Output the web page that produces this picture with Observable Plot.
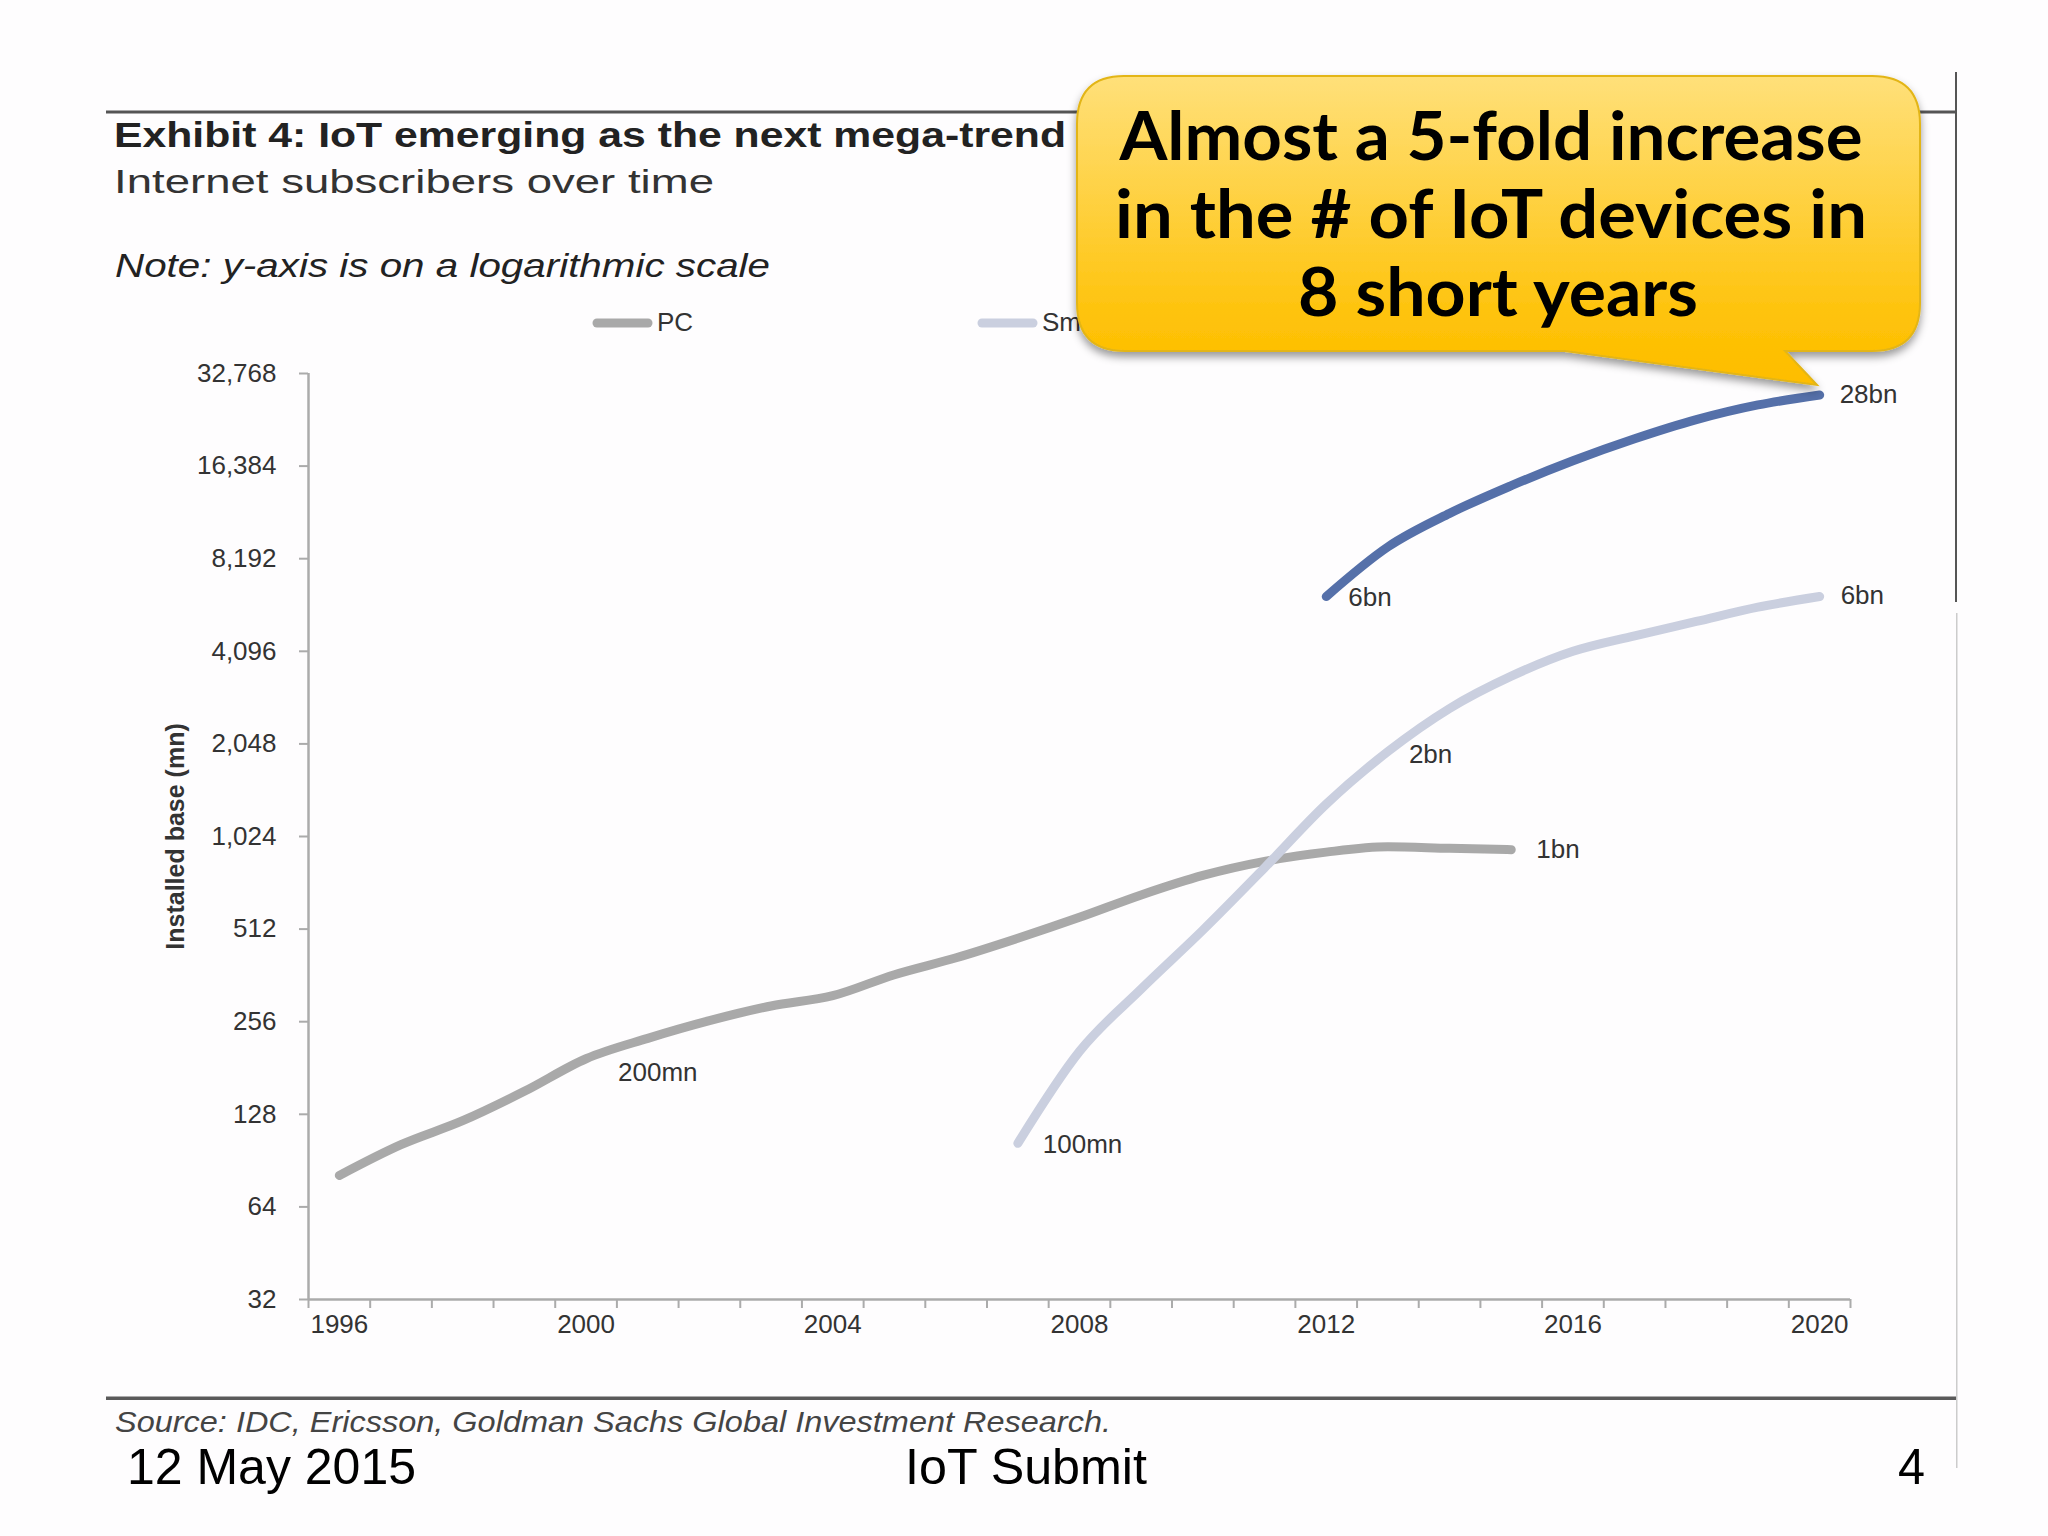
<!DOCTYPE html>
<html><head><meta charset="utf-8">
<script src="https://cdn.jsdelivr.net/npm/d3@7"></script>
<script src="https://cdn.jsdelivr.net/npm/@observablehq/plot@0.6"></script>
<style>
html,body{margin:0;padding:0;background:#fefdfe;width:2048px;height:1536px;overflow:hidden}
#wrap{position:relative;width:2048px;height:1536px}
#wrap svg{position:absolute;left:0;top:0}
text{font-family:"Liberation Sans",Arial,sans-serif}
</style></head><body><div id="wrap"></div>
<script>
const pcYears=[1996,1997,1998,1999,2000,2001,2002,2003,2004,2005,2006,2007,2008,2009,2010,2011,2012,2013,2014,2015];
const pcValues=[81,102,122,152,194,226,258,288,311,364,413,478,559,661,765,850,911,948,937,928];
const phoneYears=[2007,2008,2009,2010,2011,2012,2013,2014,2015,2016,2017,2018,2019,2020];
const phoneValues=[103,205,327,508,810,1305,1934,2670,3400,4096,4600,5120,5700,6170];
const iotYears=[2012,2013,2014,2015,2016,2017,2018,2019,2020];
const iotValues=[6170,8950,11500,14150,17050,20100,23200,25900,27900];
const yTicks=[32,64,128,256,512,1024,2048,4096,8192,16384,32768];
const xLabels=[1996,2000,2004,2008,2012,2016,2020];
const xEdges=d3.range(1995.5,2021,1);
const pc=pcYears.map((x,i)=>({x,y:pcValues[i]}));
const phone=phoneYears.map((x,i)=>({x,y:phoneValues[i]}));
const iot=iotYears.map((x,i)=>({x,y:iotValues[i]}));
const grey="#a9a9a9",pale="#cacfdf",blue="#5570a9",axis="#ababab",ink="#333";
const seriesLine=(d,c)=>Plot.line(d,{x:"x",y:"y",stroke:c,strokeWidth:9,curve:"monotone-x",strokeLinecap:"round",strokeLinejoin:"round"});
const note=(x,y,t,dx,dy)=>Plot.text([{x,y,t}],{x:"x",y:"y",text:"t",dx,dy,textAnchor:"start",fontSize:26,fill:ink});
const chart=Plot.plot({
  width:2048,height:1536,marginLeft:308,marginRight:198,marginTop:373,marginBottom:237,
  style:{background:"transparent",fontFamily:"Liberation Sans"},
  x:{domain:[1995.5,2020.5]},
  y:{type:"log",base:2,domain:[32,32768]},
  marks:[
    Plot.ruleY([32],{stroke:axis,strokeWidth:2.5}),
    Plot.ruleX([1995.5],{stroke:axis,strokeWidth:2.5}),
    Plot.axisX({ticks:xEdges,tickFormat:()=>"",tickSize:9,stroke:axis,strokeWidth:2,label:null}),
    Plot.axisX({ticks:xLabels,tickSize:0,tickPadding:15,tickFormat:d=>String(d),fontSize:26,fill:ink,label:null}),
    Plot.axisY({ticks:yTicks,tickSize:9,tickPadding:23,tickFormat:d3.format(","),stroke:axis,strokeWidth:2,fontSize:26,fill:ink,
      label:"Installed base (mn)",labelAnchor:"center",labelArrow:"none",labelOffset:142}),
    seriesLine(pc,grey),seriesLine(phone,pale),seriesLine(iot,blue),
    note(2000,pcValues[4],"200mn",32,14),
    note(2007,phoneValues[0],"100mn",25,1),
    note(2015,pcValues[19],"1bn",25,0),
    note(2013,phoneValues[6],"2bn",21,3),
    note(2012,iotValues[0],"6bn",22,1),
    note(2020,iotValues[8],"28bn",20,0),
    note(2020,phoneValues[13],"6bn",21,-1)
  ]
});
document.getElementById("wrap").appendChild(chart);
const yl=[...chart.querySelectorAll("text")].find(t=>t.textContent.includes("Installed"));
if(yl){yl.style.fontWeight="bold";yl.style.fontSize="25px";yl.style.fill="#333";}
const ns="http://www.w3.org/2000/svg";
const overlay=`<svg xmlns="${ns}" width="2048" height="1536" viewBox="0 0 2048 1536">
<defs><linearGradient id="g" x1="0" y1="0" x2="0" y2="1"><stop offset="0" stop-color="#ffe07a"/><stop offset=".8" stop-color="#fec208"/><stop offset="1" stop-color="#febd00"/></linearGradient>
<filter id="s" x="-5%" y="-5%" width="110%" height="115%"><feDropShadow dx="0" dy="5" stdDeviation="4" flood-color="#000" flood-opacity=".4"/></filter></defs>
<rect x="106" y="110.5" width="1850" height="3" fill="#555"/>
<rect x="106" y="1396.5" width="1850" height="3.5" fill="#5a5a5a"/>
<rect x="1955" y="72" width="2" height="530" fill="#555"/>
<rect x="1956" y="613" width="1.5" height="855" fill="#ccc"/>
<text x="114" y="147" font-size="35" font-weight="bold" fill="#222" textLength="952" lengthAdjust="spacingAndGlyphs">Exhibit 4: IoT emerging as the next mega-trend</text>
<text x="114" y="193" font-size="33" fill="#333" textLength="600" lengthAdjust="spacingAndGlyphs">Internet subscribers over time</text>
<text x="115" y="277" font-size="33" font-style="italic" fill="#222" textLength="655" lengthAdjust="spacingAndGlyphs">Note: y-axis is on a logarithmic scale</text>
<line x1="597" x2="648" y1="323" y2="323" stroke="${grey}" stroke-width="9" stroke-linecap="round"/>
<text x="657" y="331" font-size="26" fill="${ink}">PC</text>
<line x1="982" x2="1033" y1="323" y2="323" stroke="${pale}" stroke-width="9" stroke-linecap="round"/>
<text x="1042" y="331" font-size="26" fill="${ink}">Sm</text>
<path filter="url(#s)" d="M1124 76H1872Q1920 76 1920 124V303Q1920 351 1872 351H1785L1817 385L1565 351H1125Q1077 351 1077 303V124Q1077 76 1124 76Z" fill="url(#g)" stroke="#e3b517" stroke-width="2"/>
<g style="font-family:Lato" font-weight="bold" font-size="66" fill="#000" text-anchor="middle">
<text x="1491" y="160" style="font-family:Lato" textLength="743" lengthAdjust="spacingAndGlyphs">Almost a 5-fold increase</text>
<text x="1491" y="238" style="font-family:Lato" textLength="752" lengthAdjust="spacingAndGlyphs">in the # of IoT devices in</text>
<text x="1498" y="316" style="font-family:Lato" textLength="400" lengthAdjust="spacingAndGlyphs">8 short years</text>
</g>
<text x="115" y="1432" font-size="29" font-style="italic" fill="#444" textLength="996" lengthAdjust="spacingAndGlyphs">Source: IDC, Ericsson, Goldman Sachs Global Investment Research.</text>
<text x="127" y="1484" font-size="50" fill="#000" textLength="289" lengthAdjust="spacingAndGlyphs">12 May 2015</text>
<text x="905" y="1484" font-size="50" fill="#000" textLength="242" lengthAdjust="spacingAndGlyphs">IoT Submit</text>
<text x="1898" y="1484" font-size="50" fill="#000" textLength="27" lengthAdjust="spacingAndGlyphs">4</text>
</svg>`;
document.getElementById("wrap").insertAdjacentHTML("beforeend",overlay);
</script></body></html>
